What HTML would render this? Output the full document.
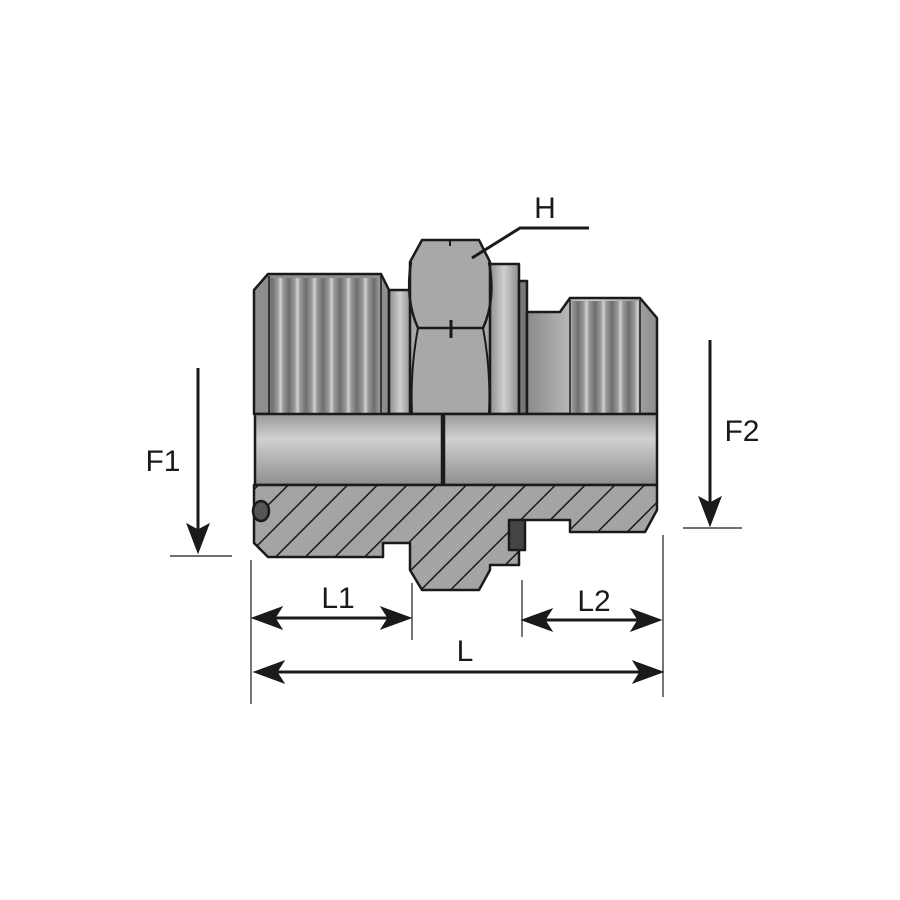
<!DOCTYPE html>
<html><head><meta charset="utf-8"><style>html,body{margin:0;padding:0;background:#fff}svg{display:block}</style></head><body>
<svg width="900" height="900" viewBox="0 0 900 900" xmlns="http://www.w3.org/2000/svg">
<defs>
<linearGradient id="thr" x1="0" x2="1" y1="0" y2="0">
<stop offset="0" stop-color="#6e6e6e"/><stop offset="0.35" stop-color="#9c9c9c"/><stop offset="0.5" stop-color="#d4d4d4"/><stop offset="0.65" stop-color="#9a9a9a"/><stop offset="1" stop-color="#6e6e6e"/>
</linearGradient>
<pattern id="stripe" width="17" height="10" patternUnits="userSpaceOnUse">
<rect width="17" height="10" fill="url(#thr)"/>
</pattern>
<linearGradient id="cyl" x1="0" x2="1"><stop offset="0" stop-color="#8a8a8a"/><stop offset="0.5" stop-color="#cfcfcf"/><stop offset="1" stop-color="#8e8e8e"/></linearGradient>
<linearGradient id="bore" x1="0" x2="0" y1="0" y2="1"><stop offset="0" stop-color="#9a9a9a"/><stop offset="0.35" stop-color="#d0d0d0"/><stop offset="1" stop-color="#8f8f8f"/></linearGradient>
<pattern id="hatch" width="21" height="21" patternUnits="userSpaceOnUse" patternTransform="rotate(45)">
<rect width="21" height="21" fill="#a4a4a4"/><line x1="0" y1="0" x2="0" y2="21" stroke="#1a1a1a" stroke-width="3"/>
</pattern>
</defs>
<g stroke="#1a1a1a" stroke-width="2.5" stroke-linejoin="round">
<polygon points="254,290 268,274 381,274 389,290 389,414 254,414" fill="#8e8e8e"/>
<rect x="269" y="278" width="112" height="136" fill="url(#stripe)" stroke="none"/>
<line x1="269" y1="276" x2="269" y2="414" stroke-width="1.5"/>
<line x1="381" y1="276" x2="381" y2="414" stroke-width="1.5"/>
<rect x="389" y="290" width="22" height="124" fill="url(#cyl)"/>
<rect x="489" y="264" width="30" height="150" fill="url(#cyl)"/>
<rect x="519" y="281" width="8" height="133" fill="#777"/>
<polygon points="527,312 560,312 570,298 640,298 657,318 657,414 527,414" fill="url(#cyl)"/>
<rect x="571" y="301" width="68" height="113" fill="url(#stripe)" stroke="none"/>
<line x1="570" y1="300" x2="570" y2="414" stroke-width="1.5"/>
<line x1="640" y1="300" x2="640" y2="414" stroke-width="1.5"/>
<polygon points="410,262 422,240 479,240 490,262 490,414 410,414" fill="#a8a8a8"/>
<path d="M411,262 Q405,300 418,328 L483,328 Q496,300 489,262" fill="none"/>
<path d="M418,328 Q410,370 412,414 M483,328 Q491,370 489,414" fill="none" stroke-width="2"/>
<line x1="450" y1="240" x2="450" y2="246" stroke-width="2"/>
<line x1="451" y1="320" x2="451" y2="338" stroke-width="3"/>
<rect x="255" y="414" width="187" height="71" fill="url(#bore)"/>
<rect x="444" y="414" width="213" height="71" fill="url(#bore)"/>
<polygon points="254,485 657,485 657,510 645,532 570,532 570,520 519,520 519,565 490,565 490,570 479,590 422,590 410,570 410,543 383,543 383,557 268,557 254,543" fill="url(#hatch)"/>
<ellipse cx="261" cy="511" rx="8" ry="10" fill="#555"/>
<polygon points="509,520 525,520 525,550 509,550" fill="#444"/>
</g>
<g stroke="#1a1a1a" fill="#1a1a1a">
<line x1="198" y1="368" x2="198" y2="530" stroke-width="3"/>
<polygon points="198,553 187,524 198,530 209,524"/>
<line x1="170" y1="556" x2="232" y2="556" stroke-width="1.2"/>
<line x1="710" y1="340" x2="710" y2="503" stroke-width="3"/>
<polygon points="710,526 699,497 710,503 721,497"/>
<line x1="683" y1="528" x2="742" y2="528" stroke-width="1.2"/>
<line x1="251" y1="560" x2="251" y2="704" stroke-width="1.2"/>
<line x1="412" y1="583" x2="412" y2="640" stroke-width="1.2"/>
<line x1="522" y1="580" x2="522" y2="637" stroke-width="1.2"/>
<line x1="663" y1="535" x2="663" y2="697" stroke-width="1.2"/>
<line x1="270" y1="618" x2="395" y2="618" stroke-width="3"/>
<polygon points="252,618 282,607 275,618 282,629"/>
<polygon points="411,618 381,607 388,618 381,629"/>
<line x1="540" y1="620" x2="645" y2="620" stroke-width="3"/>
<polygon points="522,620 552,609 545,620 552,631"/>
<polygon points="661,620 631,609 638,620 631,631"/>
<line x1="272" y1="672" x2="645" y2="672" stroke-width="3"/>
<polygon points="254,672 284,661 277,672 284,683"/>
<polygon points="663,672 633,661 640,672 633,683"/>
<polyline points="472,258 520,228 589,228" fill="none" stroke-width="3"/>
</g>
<g font-family="Liberation Sans, sans-serif" font-size="30" fill="#1a1a1a" text-anchor="middle">
<text x="163" y="471">F1</text>
<text x="742" y="441">F2</text>
<text x="338" y="608">L1</text>
<text x="594" y="611">L2</text>
<text x="465" y="661">L</text>
<text x="545" y="218">H</text>
</g>
</svg>
</body></html>
